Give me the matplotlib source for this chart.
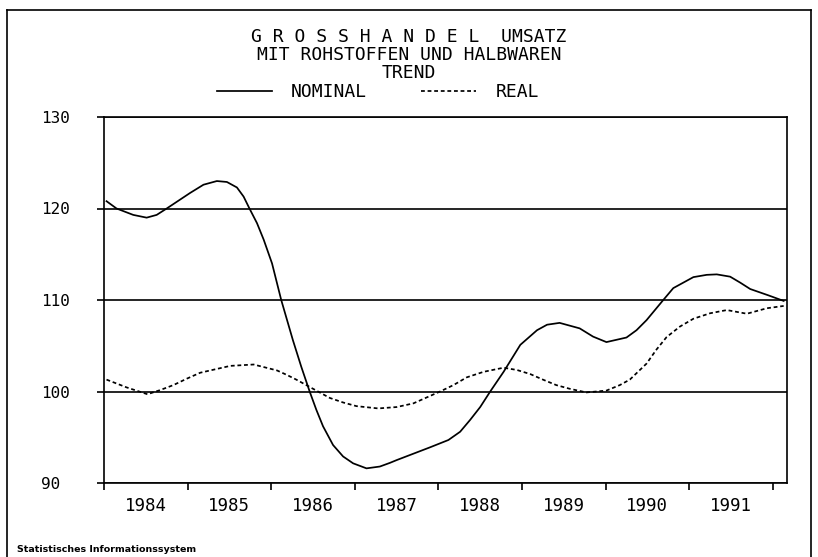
import matplotlib
matplotlib.use("Agg")
import matplotlib.pyplot as plt
from matplotlib.lines import Line2D

# ---- data ----
title_lines = ["G R O S S H A N D E L  UMSATZ",
               "MIT ROHSTOFFEN UND HALBWAREN",
               "TREND"]
series_names = ["NOMINAL", "REAL"]

nominal_t = [1984.03, 1984.15, 1984.35, 1984.51, 1984.63, 1984.75, 1985.03, 1985.19,
             1985.35, 1985.47, 1985.59, 1985.67, 1985.74, 1985.83, 1985.91, 1986.01,
             1986.12, 1986.26, 1986.36, 1986.46, 1986.54, 1986.62, 1986.74, 1986.86,
             1986.98, 1987.14, 1987.30, 1987.42, 1987.50, 1987.70, 1987.90, 1988.12,
             1988.26, 1988.38, 1988.50, 1988.62, 1988.78, 1988.98, 1989.18, 1989.30,
             1989.45, 1989.69, 1989.85, 1990.01, 1990.25, 1990.37, 1990.49, 1990.59,
             1990.69, 1990.81, 1991.05, 1991.21, 1991.33, 1991.49, 1991.61, 1991.73,
             1991.95, 1992.13]
nominal_v = [120.8, 120.0, 119.3, 119.0, 119.3, 120.0, 121.7, 122.6,
             123.0, 122.9, 122.3, 121.3, 120.0, 118.4, 116.6, 114.0,
             110.0, 105.6, 102.7, 100.0, 98.0, 96.2, 94.15, 92.9,
             92.15, 91.6, 91.8, 92.2, 92.5, 93.2, 93.9, 94.7,
             95.6, 96.9, 98.3, 100.0, 102.15, 105.1, 106.7, 107.3,
             107.5, 106.9, 106.0, 105.4, 105.9, 106.7, 107.8, 108.9,
             110.0, 111.3, 112.5, 112.75, 112.8, 112.55, 111.9, 111.2,
             110.5, 109.9]

real_t = [1984.03, 1984.27, 1984.52, 1984.67, 1984.83, 1984.99, 1985.15, 1985.51,
          1985.79, 1986.07, 1986.19, 1986.30, 1986.46, 1986.70, 1986.86, 1987.02,
          1987.28, 1987.50, 1987.70, 1988.02, 1988.18, 1988.34, 1988.54, 1988.78,
          1988.94, 1989.10, 1989.25, 1989.41, 1989.57, 1989.77, 1990.01, 1990.17,
          1990.29, 1990.49, 1990.61, 1990.73, 1990.89, 1991.05, 1991.25, 1991.45,
          1991.69, 1991.93, 1992.13]
real_v = [101.3, 100.45, 99.7, 100.15, 100.7, 101.4, 102.05, 102.8,
          102.95, 102.3, 101.8, 101.3, 100.5, 99.3, 98.8, 98.4,
          98.15, 98.3, 98.7, 100.0, 100.7, 101.55, 102.15, 102.6,
          102.35, 101.9, 101.3, 100.7, 100.3, 99.9, 100.1, 100.7,
          101.3, 103.05, 104.6, 105.95, 107.1, 107.95, 108.55, 108.9,
          108.5, 109.1, 109.35]

year_labels = ["1984", "1985", "1986", "1987", "1988", "1989", "1990", "1991"]
year_bounds = [1984, 1985, 1986, 1987, 1988, 1989, 1990, 1991, 1992]
y_ticks = [90, 100, 110, 120, 130]
y_ticklabels = ["90", "100", "110", "120", "130"]
footer = "Statistisches Informationssystem"

# ---- figure ----
W, H = 818, 557
fig = plt.figure(figsize=(W / 100, H / 100), dpi=100)
mono = "DejaVu Sans Mono"

L, R, T, B = 104, 787, 117, 483
ax = fig.add_axes([L / W, 1 - B / H, (R - L) / W, (B - T) / H])
ax.set_xlim(1984, 1992.17)
ax.set_ylim(90, 130)

lw = 1.25
ln_nom, = ax.plot(nominal_t, nominal_v, color="black", lw=lw, solid_joinstyle="round",
                  label=series_names[0])
ln_real, = ax.plot(real_t, real_v, color="black", lw=lw, linestyle=(0, (2.2, 1.6)),
                   label=series_names[1])

for s in ax.spines.values():
    s.set_linewidth(1.2)
    s.set_color("black")

ax.set_yticks(y_ticks)
ax.set_yticklabels(y_ticklabels, fontfamily=mono, fontsize=11.5)
ax.tick_params(axis="y", direction="out", length=5, width=1.2, pad=40)
for lab in ax.get_yticklabels():
    lab.set_horizontalalignment("left")
ax.grid(axis="y", color="black", lw=1.2)
ax.set_axisbelow(False)

ax.set_xticks(year_bounds)
ax.set_xticklabels([])
ax.set_xticks([y + 0.5 for y in year_bounds[:-1]], minor=True)
ax.set_xticklabels(year_labels, minor=True, fontfamily=mono, fontsize=12.5)
ax.tick_params(axis="x", which="major", direction="out", length=5, width=1.2)
ax.tick_params(axis="x", which="minor", length=0, pad=10)

# title
for txt, yp in zip(title_lines, [37, 55, 73]):
    fig.text(409 / W, 1 - yp / H, txt, ha="center", va="center",
             fontfamily=mono, fontsize=13)

# legend
fig.legend(handles=[ln_nom, ln_real], loc="center left",
           bbox_to_anchor=(217 / W, 1 - 92 / H), ncol=2, frameon=False,
           prop={"family": mono, "size": 13}, borderpad=0, borderaxespad=0,
           handlelength=3.05, handletextpad=1.05, columnspacing=3.0)

# footer
fig.text(17 / W, 1 - 550 / H, footer, ha="left", va="center",
         fontfamily="DejaVu Sans", fontweight="bold", fontsize=6.8)

# page frame
fx0, fx1, fy0 = 7 / W, 811 / W, 1 - 10 / H
for xs, ys in [([fx0, fx1], [fy0, fy0]), ([fx0, fx0], [0, fy0]), ([fx1, fx1], [0, fy0])]:
    fig.add_artist(Line2D(xs, ys, transform=fig.transFigure, color="black", lw=1.2))

fig.savefig("out.png", dpi=100)
